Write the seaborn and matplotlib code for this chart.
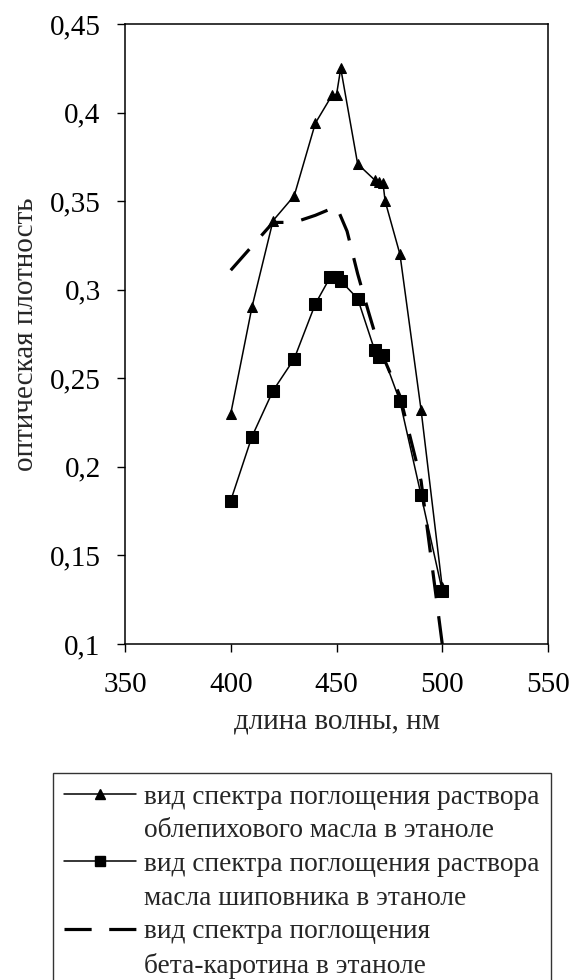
import numpy as np
import matplotlib
matplotlib.use("Agg")
import matplotlib.pyplot as plt
import seaborn as sns
from matplotlib.lines import Line2D
from matplotlib.ticker import FuncFormatter

# Data
sea_buckthorn_wl = [400, 410, 420, 430, 440, 448, 450, 452, 460, 468, 470, 472, 473, 480, 490, 500]
sea_buckthorn_od = [0.230, 0.290, 0.339, 0.353, 0.394, 0.410, 0.410, 0.425, 0.371,
                    0.362, 0.361, 0.360, 0.350, 0.320, 0.232, 0.132]

rosehip_wl = [400, 410, 420, 430, 440, 447, 450, 452, 460, 468, 470, 472, 480, 490, 500]
rosehip_od = [0.181, 0.217, 0.243, 0.261, 0.292, 0.307, 0.307, 0.305, 0.295,
              0.266, 0.262, 0.263, 0.237, 0.184, 0.130]

carotene_wl = [400, 420, 430, 440, 450, 455, 460, 465, 470, 480, 490, 500]
carotene_od = [0.311, 0.338, 0.338, 0.342, 0.347, 0.333, 0.309, 0.288, 0.268, 0.240, 0.192, 0.100]

labels = [
    "вид спектра поглощения раствора\nоблепихового масла в этаноле",
    "вид спектра поглощения раствора\nмасла шиповника в этаноле",
    "вид спектра поглощения\nбета-каротина в этаноле",
]
x_label = "длина волны, нм"
y_label = "оптическая плотность"

sns.set_style("ticks")
plt.rcParams["font.family"] = ["Liberation Serif", "DejaVu Serif"]
plt.rcParams["font.size"] = 21

DASH = (8.5, 5.5)
DASH_LW = 2.3
DPI = 100

fig = plt.figure(figsize=(5.71, 9.8), dpi=DPI)
ax = fig.add_axes([125 / 571, 1 - 644 / 980, (548 - 125) / 571, (644 - 24) / 980])

sns.lineplot(x=sea_buckthorn_wl, y=sea_buckthorn_od, ax=ax, estimator=None, sort=False,
             color="black", lw=1.1, marker="^", markersize=7.5, markeredgecolor="black")
sns.lineplot(x=rosehip_wl, y=rosehip_od, ax=ax, estimator=None, sort=False,
             color="black", lw=1.1, marker="s", markersize=8, markeredgecolor="black")

ax.set_xlim(350, 550)
ax.set_ylim(0.1, 0.45)

# stretch the dash pattern a little so that both ends of the dashed curve are dashes
pts = ax.transData.transform(np.column_stack([carotene_wl, carotene_od]))
path_len = np.hypot(*np.diff(pts, axis=0).T).sum() * 72 / DPI / DASH_LW
period = DASH[0] + DASH[1]
n = max(1, round((path_len - DASH[0]) / period))
k = path_len / (n * period + DASH[0])
dash = (DASH[0] * k, DASH[1] * k)

sns.lineplot(x=carotene_wl, y=carotene_od, ax=ax, estimator=None, sort=False,
             color="black", lw=DASH_LW, dashes=dash)

ax.set_xticks([350, 400, 450, 500, 550])
ax.set_yticks(np.arange(0.1, 0.451, 0.05))
ax.yaxis.set_major_formatter(FuncFormatter(lambda v, p: f"{v:g}".replace(".", ",")))
ax.tick_params(axis="both", direction="out", length=5.5, width=1, colors="black", labelsize=21)
ax.tick_params(axis="y", pad=12)
ax.tick_params(axis="x", pad=15)
for s in ax.spines.values():
    s.set_color("black")
    s.set_linewidth(1.1)

ax.set_xlabel(x_label, fontsize=21, labelpad=7)
ax.set_ylabel(y_label, fontsize=21, labelpad=8)

# legend: one entry per text line so the handle sits next to the first line
blank = Line2D([], [], color="none")
handles = [
    Line2D([], [], color="black", lw=1.1, marker="^", markersize=6.5),
    blank,
    Line2D([], [], color="black", lw=1.1, marker="s", markersize=6.5),
    blank,
    Line2D([], [], color="black", lw=DASH_LW, dashes=DASH),
    blank,
]
texts = []
for lab in labels:
    texts.extend(lab.split("\n"))
leg = fig.legend(handles, texts, loc="upper left", bbox_to_anchor=(53 / 571, 1 - 773 / 980),
                 frameon=True, fancybox=False, edgecolor="black", fontsize=19.7,
                 handlelength=2.6, handletextpad=0.32, labelspacing=0.31,
                 borderpad=0.42, borderaxespad=0)
leg.get_frame().set_linewidth(1.0)

fig.savefig("out.png", dpi=DPI)
